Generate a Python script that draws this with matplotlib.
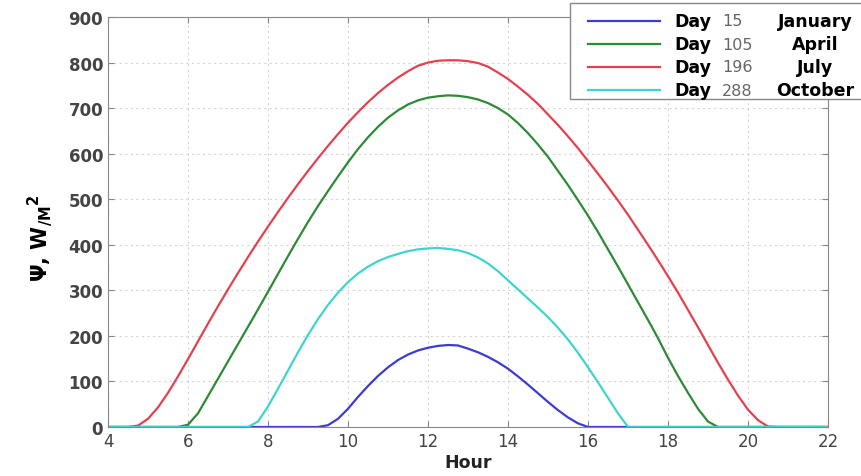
import matplotlib
matplotlib.use('Agg')
import matplotlib.pyplot as plt
import numpy as np
from matplotlib.patches import Rectangle
from matplotlib.lines import Line2D

# quarter-hour samples from 4 h to 22 h (W/m^2)
hours = np.arange(4.0, 22.01, 0.25)

jan = [0] * 22 + [4, 18, 40, 66, 90, 112, 131, 147, 159, 168,
                  174, 178, 180, 179, 172, 164, 154, 142, 128, 111,
                  93, 74, 55, 37, 21, 8] + [0] * 25
apr = [0] * 8 + [5, 30, 68, 106, 144, 182, 220, 258, 297, 336,
                 375, 413, 450, 485, 518, 550, 581, 610, 636, 659,
                 679, 695, 708, 717, 723, 726, 728, 727, 724, 719,
                 711, 700, 686, 667, 645, 620, 593, 562, 531, 498,
                 464, 428, 390, 352, 313, 274, 235, 195, 152, 112,
                 75, 40, 12, 0] + [0] * 11
jul = [0] * 3 + [3, 18, 43, 75, 111, 149, 188, 227, 265, 302,
                 338, 373, 407, 440, 472, 503, 533, 562, 590, 617,
                 643, 668, 691, 713, 733, 751, 767, 781, 793, 800,
                 804, 805, 805, 803, 799, 791, 778, 764, 747, 729,
                 709, 686, 663, 638, 612, 584, 556, 527, 497, 466,
                 433, 400, 366, 331, 295, 257, 219, 180, 141, 104,
                 69, 38, 15, 1] + [0] * 6
octo = [0] * 15 + [12, 45, 84, 124, 164, 202, 237, 268, 295, 318,
                   337, 352, 364, 373, 380, 386, 390, 392, 393, 391,
                   388, 382, 372, 359, 342, 322, 302, 282, 262, 241,
                   218, 192, 163, 131, 98, 64, 30] + [0] * 21

days = ['15', '105', '196', '288']
months = ['January', 'April', 'July', 'October']
colors = ['#3c3cd2', '#2f8a35', '#e4414f', '#3fd4cf']
x_ticks = [4, 6, 8, 10, 12, 14, 16, 18, 20, 22]
y_ticks = [0, 100, 200, 300, 400, 500, 600, 700, 800, 900]

W, H = 861, 477


def fx(px):
    return px / W


def fy(py):
    return 1 - py / H


fig = plt.figure(figsize=(8.61, 4.77), dpi=100)
ax = fig.add_axes([fx(108), fy(428), fx(828) - fx(108), fy(18) - fy(428)])

for series, c in zip([jan, apr, jul, octo], colors):
    ax.plot(hours, series, color=c, lw=1.6)

ax.set_xlim(4, 22)
ax.set_ylim(0, 900)
ax.set_xticks(x_ticks)
ax.set_yticks(y_ticks)
ax.grid(True, ls=(0, (2, 3)), color='#d4d4d4', lw=0.8)
ax.tick_params(direction='in', top=True, right=True, length=4,
               color='#888888', labelsize=12, labelcolor='#444444')
for lbl in ax.get_yticklabels():
    lbl.set_fontweight('bold')
for s in ax.spines.values():
    s.set_color('#888888')

ax.set_xlabel('Hour', fontsize=12.5, fontweight='bold', color='#222222', labelpad=2)
fig.text(fx(40), fy(238), r'Ψ, W$_{\mathregular{/M}}$$^{\mathregular{2}}$',
         rotation=90, fontsize=15, fontweight='bold', ha='center', va='center')

# legend box, drawn by hand so the day number can be grey
fig.patches.append(Rectangle((fx(570), fy(100)), fx(300), fy(4) - fy(100),
                             transform=fig.transFigure, facecolor='white',
                             edgecolor='#888888', lw=1, zorder=5))
rows = [22, 45, 68, 91]
for r, c, d, m in zip(rows, colors, days, months):
    fig.lines.append(Line2D([fx(588), fx(660)], [fy(r), fy(r)], color=c, lw=1.6,
                            transform=fig.transFigure, zorder=6))
    fig.text(fx(674), fy(r), 'Day', fontsize=12.5, fontweight='bold',
             va='center', zorder=7)
    fig.text(fx(722), fy(r), d, fontsize=11.5, color='#666666',
             va='center', zorder=7)
    fig.text(fx(815), fy(r), m, fontsize=12.5, fontweight='bold',
             ha='center', va='center', zorder=7)

fig.savefig('out.png', dpi=100)
